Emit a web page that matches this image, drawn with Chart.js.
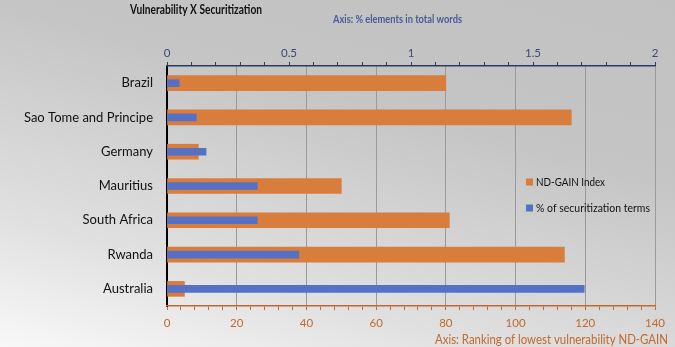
<!DOCTYPE html>
<html>
<head>
<meta charset="utf-8">
<script src="https://cdn.jsdelivr.net/npm/chart.js@4/dist/chart.umd.min.js"></script>
<style>
  html, body { margin: 0; padding: 0; }
  body {
    width: 675px; height: 347px; overflow: hidden;
    background: linear-gradient(195deg, #c1c1c1 0%, #c5c5c5 35%, #e0e0e0 75%, #f8f8f8 100%);
  }
  #wrap { position: relative; width: 675px; height: 347px; }
</style>
</head>
<body>
<div id="wrap"><canvas id="chart"></canvas></div>
<script>
// dados
var paises = ['Brazil', 'Sao Tome and Principe', 'Germany', 'Mauritius', 'South Africa', 'Rwanda', 'Australia'];
var ndGain = [80, 116, 9, 50, 81, 114, 5];
var securitizacao = [0.05, 0.12, 0.16, 0.37, 0.37, 0.54, 1.71];

var FONT = 'Lato, "Open Sans", sans-serif';
var LARANJA = '#d97d3c';
var AZUL = '#5571c5';

// escreve o texto comprimido na largura dada (fonte do original e mais estreita)
function textoLargura(ctx, txt, x, y, largura) {
    var w = ctx.measureText(txt).width;
    ctx.save();
    ctx.translate(x, y);
    ctx.scale(Math.min(1, largura / w), 1);
    ctx.fillText(txt, 0, 0);
    ctx.restore();
}

// textos soltos e legenda dentro do grafico
var textos = {
    id: 'textos',
    afterDraw: function (chart) {
        var ctx = chart.ctx;
        ctx.save();
        ctx.textBaseline = 'middle';
        ctx.textAlign = 'left';

        ctx.fillStyle = '#111';
        ctx.font = 'bold 13px ' + FONT;
        textoLargura(ctx, 'Vulnerability X Securitization', 130, 10, 132);

        ctx.fillStyle = '#4b5b9b';
        ctx.font = 'bold 11.5px ' + FONT;
        textoLargura(ctx, 'Axis: % elements in total words', 333, 19, 129);

        ctx.fillStyle = '#c0692c';
        ctx.font = '13px ' + FONT;
        textoLargura(ctx, 'Axis: Ranking of lowest vulnerability ND-GAIN', 435, 340, 233);

        // legenda
        var ds = chart.data.datasets;
        var ys = [182, 208];
        var larg = [69, 114];
        ctx.font = '11px ' + FONT;
        for (var i = 0; i < ds.length; i++) {
            ctx.fillStyle = ds[i].backgroundColor;
            ctx.fillRect(526, ys[i] - 3.5, 7, 7);
            ctx.fillStyle = '#111';
            textoLargura(ctx, ds[i].label, 536, ys[i], larg[i]);
        }
        ctx.restore();
    }
};

var ctx = document.getElementById('chart').getContext('2d');
var chart = new Chart(ctx, {
    type: 'bar',
    data: {
        labels: paises,
        datasets: [{
            label: 'ND-GAIN Index',
            data: ndGain,
            xAxisID: 'x',
            backgroundColor: LARANJA,
            barThickness: 15,
            grouped: false,
            order: 2
        }, {
            label: '% of securitization terms',
            data: securitizacao,
            xAxisID: 'x2',
            backgroundColor: AZUL,
            barThickness: 7,
            grouped: false,
            order: 1
        }]
    },
    options: {
        indexAxis: 'y',
        responsive: true,
        maintainAspectRatio: false,
        animation: false,
        layout: { padding: { left: 0, right: 20, top: 0, bottom: 0 } },
        plugins: {
            legend: { display: false },
            tooltip: { enabled: false }
        },
        scales: {
            y: {
                afterFit: function (s) { s.width = 167; },
                grid: { display: false },
                border: { color: '#000', width: 2 },
                ticks: { color: '#111', padding: 6, font: { family: FONT, size: 13 } }
            },
            x: {
                position: 'bottom',
                min: 0, max: 140,
                afterFit: function (s) { s.height = 41; },
                border: { color: '#c0692c', width: 1.5 },
                grid: {
                    color: function (c) { return c.tick && c.tick.value % 20 === 0 && c.tick.value > 0 ? '#9a9a9a' : 'rgba(0,0,0,0)'; },
                    tickColor: '#c0692c',
                    tickLength: 4,
                    lineWidth: 1
                },
                ticks: {
                    stepSize: 4,
                    autoSkip: false,
                    maxRotation: 0,
                    padding: 6,
                    color: '#c0692c',
                    font: { family: FONT, size: 11.5 },
                    callback: function (v) { return v % 20 === 0 ? v : ''; }
                }
            },
            x2: {
                position: 'top',
                min: 0, max: 2,
                afterFit: function (s) { s.height = 66; },
                border: { color: '#2d3a66', width: 1.5 },
                grid: {
                    drawOnChartArea: false,
                    tickColor: '#2d3a66',
                    tickLength: 4
                },
                ticks: {
                    stepSize: 0.1,
                    autoSkip: false,
                    maxRotation: 0,
                    padding: 2,
                    color: '#3d4a72',
                    font: { family: FONT, size: 11.5 },
                    callback: function (v) {
                        return Math.abs(v * 2 - Math.round(v * 2)) < 1e-6 ? String(Math.round(v * 10) / 10) : '';
                    }
                }
            }
        }
    },
    plugins: [textos]
});
</script>
</body>
</html>
